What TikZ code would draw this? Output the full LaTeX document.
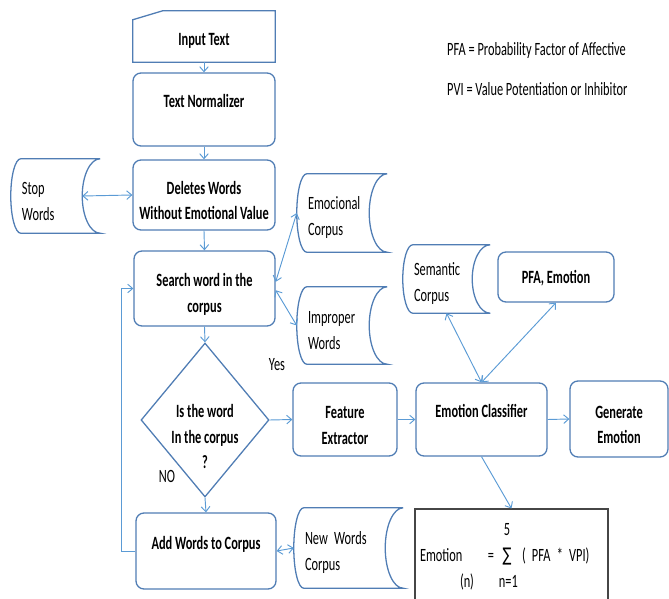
\documentclass[tikz,border=0pt]{standalone}
\usepackage{fontspec}
\setmainfont{Carlito}[FakeStretch=0.66]
\newfontfamily\symfont{DejaVu Sans}[FakeStretch=0.7]
\usetikzlibrary{shapes.geometric,arrows.meta,calc}
\definecolor{boxblue}{RGB}{80,125,180}
\definecolor{linkblue}{RGB}{91,155,213}
\definecolor{formgray}{RGB}{70,70,70}
\tikzset{
  boxline/.style={draw=boxblue, line width=1.1pt},
  proc/.style={boxline, rounded corners=0.24cm, align=center, font=\bfseries, inner xsep=0.05cm},
  twoline/.style={text height=1.5cm},
  store/.style={text width=#1, inner xsep=0.33cm, align=left, text height=0.68cm},
  link/.style={draw=linkblue, line width=0.8pt, ->},
  link2/.style={link, <->}
}
\begin{document}
\fontsize{16}{22}\selectfont
\begin{tikzpicture}[x=0.03cm, y=-0.03cm, >={Straight Barb[length=0.15cm,width=0.26cm]}]
\useasboundingbox (0,0) rectangle (669,599);
\clip (0,0) rectangle (669,599);
%main column
\node[minimum width=4.26cm, minimum height=1.53cm, font=\bfseries, text height=0.6cm] (intext) at (204,36.5) {Input Text};
\draw[boxline] (intext.south west) -- ([yshift=-0.27cm]intext.north west) -- ([xshift=0.9cm]intext.north west) -- (intext.north east) -- (intext.south east) -- cycle;
\node[proc, minimum width=4.26cm, minimum height=2.19cm, text depth=0.5cm] (norm) at (204,109.5) {Text Normalizer};
\node[proc, twoline, minimum width=4.26cm, minimum height=2.1cm] (del) at (204,195) {Deletes Words\\Without Emotional Value};
\node[proc, twoline, minimum width=4.23cm, minimum height=2.25cm] (search) at (204.5,288.5) {Search word in the\\corpus};
\node[diamond, boxline, minimum width=3.84cm, minimum height=4.62cm, inner sep=0pt,
  label={[font=\bfseries, align=center, yshift=-0.5cm]center:{Is the word\\In the corpus\\?}}] (dec) at (205,420) {};
\node[proc, minimum width=4.2cm, minimum height=2.28cm, text depth=0.5cm] (add) at (206,551) {Add Words to Corpus};
%right row
\node[proc, twoline, minimum width=3.12cm, minimum height=2.19cm] (feat) at (345,419.5) {Feature\\Extractor};
\node[proc, minimum width=3.93cm, minimum height=2.19cm, text depth=0.5cm] (classif) at (481.5,419.5) {Emotion Classifier};
\node[proc, twoline, minimum width=2.94cm, minimum height=2.28cm] (gen) at (619,419) {Generate\\Emotion};
\node[proc, minimum width=3.48cm, minimum height=1.5cm, text height=0.45cm] (pfa) at (556,277) {PFA, Emotion};
%stored data
\node[store=2.01cm, minimum height=2.22cm] (stop) at (55.5,196) {Stop\\Words};
\node[store=2.04cm, minimum height=2.34cm] (emo) at (342,213) {Emocional\\Corpus};
\node[store=2.04cm, minimum height=2.31cm] (impr) at (342,325.5) {Improper\\Words};
\node[store=1.95cm, minimum height=2.04cm] (sem) at (446.5,279) {Semantic\\Corpus};
\node[store=2.61cm, minimum height=2.4cm] (neww) at (348.5,548) {New Words\\Corpus};
\foreach \s in {stop,emo,impr,sem,neww}
  \draw[boxline] let \p1=($(\s.north)-(\s.center)$) in
    (\s.north east) -- ([xshift=0.3cm]\s.north west)
    arc[start angle=90, end angle=270, x radius=0.3cm, y radius=\y1]
    -- (\s.south east)
    arc[start angle=270, end angle=90, x radius=0.54cm, y radius=\y1];
%formula
\node[draw=formgray, line width=0.9pt, minimum width=5.79cm, minimum height=2.88cm, text width=5.49cm, inner xsep=0.15cm, align=left] (formula) at (511.5,557)
  {\hspace*{2.34cm}\makebox[0.54cm]{5}\\
   \makebox[2.04cm][l]{Emotion}\makebox[0.3cm][l]{=}\makebox[0.54cm]{\symfont ∑}\hspace{0.18cm}( PFA * VPI)\\
   \hspace*{1.2cm}(n)\hspace{0.75cm}n=1};
%texts
\node (yes) at (277,365) {Yes};
\node (no) at (167,476) {NO};
\node[anchor=west, inner sep=0pt] (pfadef) at (447,51) {PFA = Probability Factor of Affective};
\node[anchor=west, inner sep=0pt] (pvidef) at (447,89) {PVI = Value Potentiation or Inhibitor};
%arrows
\draw[link] (intext.south) -- (norm.north);
\draw[link] (norm.south) -- (del.north);
\draw[link] (del.south) -- (search.north);
\draw[link] (search.south) -- (dec.north);
\draw[link] (dec.south) -- (add.north);
\draw[link] (dec.east) -- (feat.west);
\draw[link] (feat.east) -- (classif.west);
\draw[link] (classif.east) -- (gen.west);
\draw[link] (classif.south) -- (formula.north);
\draw[link2] ([xshift=-0.54cm]stop.east) -- (del.west);
\draw[link2] ([yshift=0.2cm]search.east) -- (emo.west);
\draw[link2] ([yshift=-0.05cm]search.east) -- (impr.west);
\draw[link2] (add.east) -- (neww.west);
\draw[link2] (classif.north) -- (sem.south);
\draw[link2] (classif.north) -- (pfa.south);
\draw[link] (add.west) -- ([xshift=-0.42cm]add.west) |- (search.west);
\end{tikzpicture}
\end{document}
